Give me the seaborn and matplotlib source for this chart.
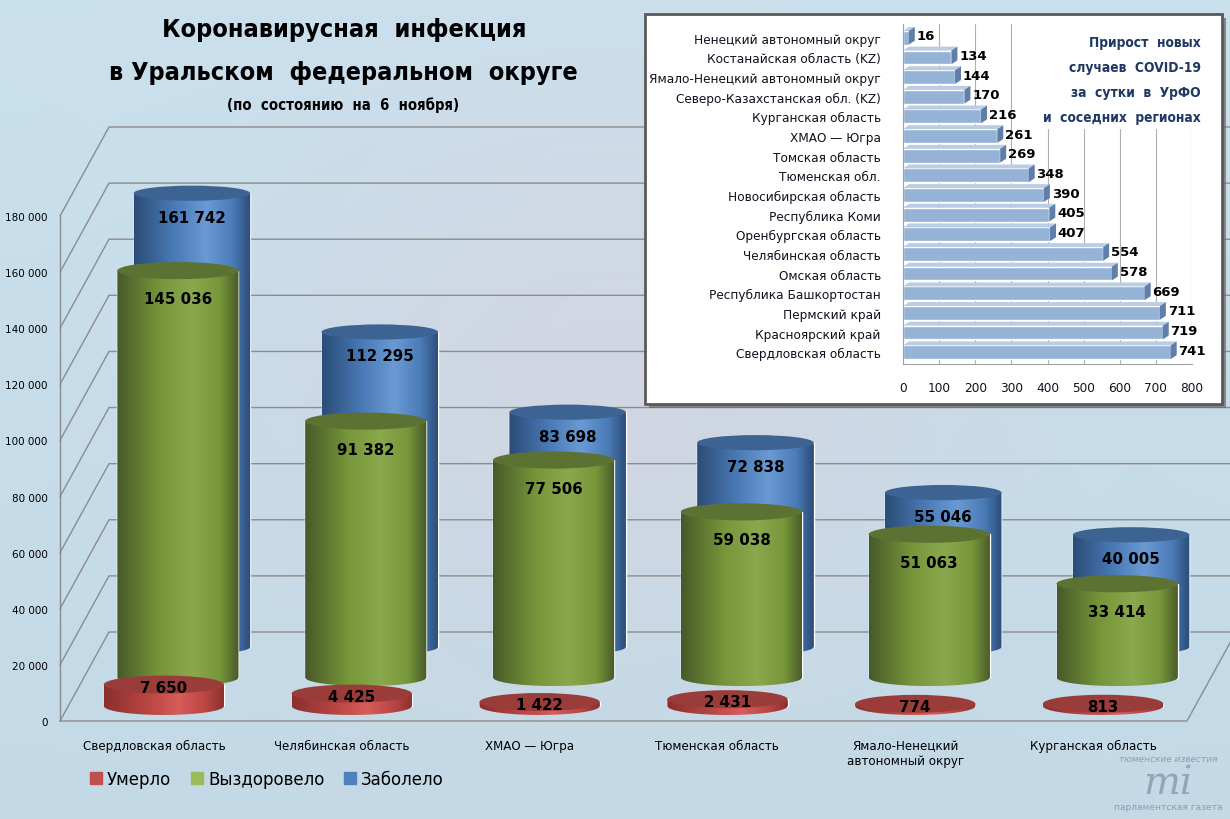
import numpy as np
import pandas as pd
import matplotlib
matplotlib.use('Agg')
import matplotlib.pyplot as plt
import seaborn as sns
from matplotlib import font_manager
from matplotlib.font_manager import FontProperties
from matplotlib.patches import Ellipse, PathPatch, Rectangle, Patch, Polygon
from matplotlib.path import Path
from matplotlib.colors import LinearSegmentedColormap

# main chart data
regions = ['Свердловская область', 'Челябинская область', 'ХМАО — Югра',
           'Тюменская область', 'Ямало-Ненецкий\nавтономный округ', 'Курганская область']
died = [7650, 4425, 1422, 2431, 774, 813]
recovered = [145036, 91382, 77506, 59038, 51063, 33414]
sick = [161742, 112295, 83698, 72838, 55046, 40005]
series_names = ['Умерло', 'Выздоровело', 'Заболело']
yticks = list(range(0, 180001, 20000))

# inset data
inset_regions = ['Ненецкий автономный округ', 'Костанайская область (KZ)',
                 'Ямало-Ненецкий автономный округ', 'Северо-Казахстанская обл. (KZ)',
                 'Курганская область', 'ХМАО — Югра', 'Томская область', 'Тюменская обл.',
                 'Новосибирская область', 'Республика Коми', 'Оренбургская область',
                 'Челябинская область', 'Омская область', 'Республика Башкортостан',
                 'Пермский край', 'Красноярский край', 'Свердловская область']
inset_values = [16, 134, 144, 170, 216, 261, 269, 348, 390, 405, 407, 554, 578, 669, 711, 719, 741]
inset_ticks = list(range(0, 801, 100))

sns.set_style('white')
plt.rcParams['font.family'] = ['DejaVu Sans']
plt.rcParams['text.color'] = 'black'
plt.rcParams['xtick.color'] = 'black'
plt.rcParams['ytick.color'] = 'black'

# look for a condensed bold face for the headings
narrow_fp = None
best = None
for f in font_manager.fontManager.ttflist:
    key = (f.name + ' ' + f.fname).lower()
    is_narrow = 'narrow' in key or 'condensed' in key or 'condensed' in str(f.stretch)
    w = f.weight if isinstance(f.weight, int) else (700 if 'bold' in str(f.weight) else 400)
    if is_narrow and w >= 600:
        rank = 0 if 'liberation' in key else 1
        if best is None or rank < best[0]:
            best = (rank, f.fname)
if best is not None:
    narrow_fp = FontProperties(fname=best[1])
else:
    narrow_fp = FontProperties(family=['Roboto', 'DejaVu Sans'], weight='bold')

W, H = 1230, 820
fig = plt.figure(figsize=(W / 100, H / 100), dpi=100)
renderer = fig.canvas.get_renderer()


def fx(x):
    return x / W


def fy(y):
    return 1 - y / H


def fmt(v):
    return f"{v:,}".replace(',', ' ')


def fit_size(txt, target_w):
    bb = txt.get_window_extent(renderer)
    return txt.get_fontsize() * target_w / bb.width


# background
bg = fig.add_axes([0, 0, 1, 1], zorder=-10)
yy, xx = np.mgrid[0:1:82j, 0:1:123j]
blob = np.exp(-((xx - 0.5) ** 2 / 0.08 + (yy - 0.45) ** 2 / 0.12))
base_bg = np.array([0.79, 0.88, 0.93])
pink = np.array([0.85, 0.84, 0.89])
img = base_bg * (1 - blob[..., None] * 0.7) + pink * blob[..., None] * 0.7
img = img * (1 - 0.03 * yy[..., None])
bg.imshow(img, aspect='auto', interpolation='bicubic', extent=[0, 1, 0, 1])
bg.axis('off')

# wall / floor axes (front plane)
K = 505 / 180000
ax = fig.add_axes([fx(60), fy(722), 1127 / W, 505 / H], zorder=0)
ax.set_xlim(-0.5, 5.5)
ax.set_ylim(0, 180000)
ax.patch.set_alpha(0)
for s in ax.spines.values():
    s.set_visible(False)
ddx = 49 / 1127 * 6
ddy = 89 / K
grid_c = '#8c8c8c'
for t in yticks:
    ax.plot([-0.5, -0.5 + ddx, 5.5 + ddx], [t, t + ddy, t + ddy], color=grid_c, lw=1, clip_on=False)
ax.plot([-0.5, -0.5], [0, 180000], color=grid_c, lw=1, clip_on=False)
ax.plot([-0.5, 5.5, 5.5 + ddx], [0, 0, ddy], color=grid_c, lw=1, clip_on=False)
ax.set_yticks(yticks)
ax.set_yticklabels([fmt(t) for t in yticks], fontsize=7.5)
ax.set_xticks(range(len(regions)))
ax.set_xticklabels(regions, fontsize=8.6)
ax.tick_params(length=0, pad=9)
ax.tick_params(axis='x', pad=13)


def series_axes(dx, dy, z):
    yb = 722 - dy
    lo = 12000
    a = fig.add_axes([fx(60 + dx), fy(yb + lo * K), 1127 / W, (505 + lo * K) / H], zorder=z)
    return a, lo


def cylinders(a, lo, values, colors, cap, width, cap_h, label_dy):
    df = pd.DataFrame({'region': regions, 'value': values})
    sns.barplot(data=df, x='region', y='value', ax=a, color=colors[1], width=width,
                saturation=1, errorbar=None)
    cm = LinearSegmentedColormap.from_list('cyl', [(0, colors[0]), (0.35, colors[1]),
                                                   (0.62, colors[2]), (0.85, colors[1]),
                                                   (1, colors[0])])
    grad = np.linspace(0, 1, 256).reshape(1, -1)
    for p, v in zip(a.patches, values):
        x0 = p.get_x()
        w = p.get_width()
        cx = x0 + w / 2
        t = np.linspace(np.pi, 2 * np.pi, 60)
        verts = [(x0, v)] + [(cx + w / 2 * np.cos(tt), cap_h / 2 * np.sin(tt)) for tt in t] + [(x0 + w, v), (x0, v)]
        codes = [Path.MOVETO] + [Path.LINETO] * (len(verts) - 2) + [Path.CLOSEPOLY]
        body = PathPatch(Path(verts, codes), transform=a.transData)
        im = a.imshow(grad, extent=[x0, x0 + w, -cap_h / 2, v], aspect='auto', cmap=cm,
                      interpolation='bilinear', zorder=2)
        im.set_clip_path(body)
        a.add_patch(Ellipse((cx, v), w, cap_h, facecolor=cap, edgecolor='none', zorder=3))
        a.text(cx, v - label_dy, fmt(v), ha='center', va='center', fontsize=10.8,
               fontweight='bold', color='black', zorder=4)
    a.set_xlim(-0.5, 5.5)
    a.set_ylim(-lo, 180000)
    a.axis('off')


ab, lo = series_axes(38, 74, 1)
cylinders(ab, lo, sick, ['#2b4c77', '#4a7bb7', '#6a9ad4'], '#3c6391', 0.62, 5400, 8500)
ag, lo = series_axes(24, 43.5, 2)
cylinders(ag, lo, recovered, ['#47592a', '#769639', '#8aa94c'], '#5c7232', 0.645, 6100, 10000)
ar, lo = series_axes(10, 15, 3)
cylinders(ar, lo, died, ['#8a2f2d', '#b84542', '#d85c5a'], '#9a3c3a', 0.64, 6400, 1000)

# legend
handles = [Patch(color=c, label=l) for c, l in zip(['#c0504d', '#9bbb59', '#4f81bd'], series_names)]
fig.legend(handles=handles, loc='center', bbox_to_anchor=(267 / W, fy(780)), ncol=3,
           frameon=False, fontsize=12, handlelength=0.7, handleheight=0.7,
           handletextpad=0.3, columnspacing=1.2)

# titles
t1 = fig.text(fx(344), fy(30), 'Коронавирусная  инфекция', ha='center', va='center',
              fontproperties=narrow_fp, fontsize=26)
t2 = fig.text(fx(343), fy(73), 'в Уральском  федеральном  округе', ha='center', va='center',
              fontproperties=narrow_fp, fontsize=26)
t3 = fig.text(fx(343), fy(105), '(по  состоянию  на  6  ноября)', ha='center', va='center',
              fontproperties=narrow_fp, fontsize=13)
size = fit_size(t2, 470)
t1.set_fontsize(size)
t2.set_fontsize(size)
t3.set_fontsize(fit_size(t3, 230))

# inset panel
fig.add_artist(Rectangle((fx(649), fy(409)), 577 / W, 390 / H, transform=fig.transFigure,
                         facecolor='#6f6f6f', edgecolor='none', zorder=4, alpha=0.8))
fig.add_artist(Rectangle((fx(645), fy(405)), 577 / W, 390 / H, transform=fig.transFigure,
                         facecolor='white', edgecolor='#595959', lw=2, zorder=5))

ai = fig.add_axes([fx(903), fy(365), 289 / W, 340 / H], zorder=6)
dfi = pd.DataFrame({'region': inset_regions, 'value': inset_values})
sns.barplot(data=dfi, x='value', y='region', orient='h', ax=ai, color='#95b3d7',
            width=0.7, saturation=1, errorbar=None)
ex = 6 / 289 * 800
ey = 0.2
for p, v in zip(ai.patches, inset_values):
    x0 = p.get_x()
    x1 = x0 + p.get_width()
    y0 = p.get_y()
    h = p.get_height()
    ai.add_patch(Polygon([(x0, y0), (x1, y0), (x1 + ex, y0 - ey), (x0 + ex, y0 - ey)],
                         closed=True, facecolor='#b9cde5', edgecolor='none', zorder=3))
    ai.add_patch(Polygon([(x1, y0), (x1, y0 + h), (x1 + ex, y0 + h - ey), (x1 + ex, y0 - ey)],
                         closed=True, facecolor='#5f7ea8', edgecolor='none', zorder=3))
    ai.text(x1 + ex + 5, y0 + h / 2 - 0.1, str(v), ha='left', va='center', fontsize=9.5,
            fontweight='bold', color='black', zorder=4)
ai.set_xlim(0, 800)
ai.set_ylim(16.6, -0.7)
ai.set_xticks(inset_ticks)
ai.set_xlabel('')
ai.set_ylabel('')
ai.tick_params(axis='both', length=0, labelsize=8.7, colors='#10101e')
ai.tick_params(axis='x', pad=12)
ai.tick_params(axis='y', pad=16)
ai.grid(axis='x', color='#b0b0b0', lw=0.8)
ai.set_axisbelow(True)
for s in ['top', 'right']:
    ai.spines[s].set_visible(False)
ai.spines['left'].set_color('#a0a0a0')
ai.spines['bottom'].set_color('#a0a0a0')
ai.patch.set_alpha(0)

# white block behind the inset heading
fig.add_artist(Rectangle((fx(1040), fy(130)), 165 / W, 108 / H, transform=fig.transFigure,
                         facecolor='white', edgecolor='none', zorder=6.5))
inset_title = ['Прирост  новых', 'случаев  COVID-19', 'за  сутки  в  УрФО', 'и  соседних  регионах']
title_texts = []
for i, line in enumerate(inset_title):
    tt = fig.text(fx(1201), fy(43 + 25 * i), line, ha='right', va='center',
                  fontproperties=narrow_fp, fontsize=14, color='#1f3864', zorder=7)
    title_texts.append(tt)
size = fit_size(title_texts[-1], 160)
for tt in title_texts:
    tt.set_fontsize(size)

# watermark
fig.text(fx(1168), fy(760), 'тюменские известия', ha='center', va='center', fontsize=6.5,
         color='#8090a8', alpha=0.8, style='italic')
fig.text(fx(1168), fy(784), 'mi', ha='center', va='center', fontsize=28, color='#8090a8',
         alpha=0.7, family=['DejaVu Serif'], style='italic')
fig.text(fx(1168), fy(808), 'парламентская газета', ha='center', va='center', fontsize=6.5,
         color='#8090a8', alpha=0.8)

fig.savefig('out.png', dpi=100)
